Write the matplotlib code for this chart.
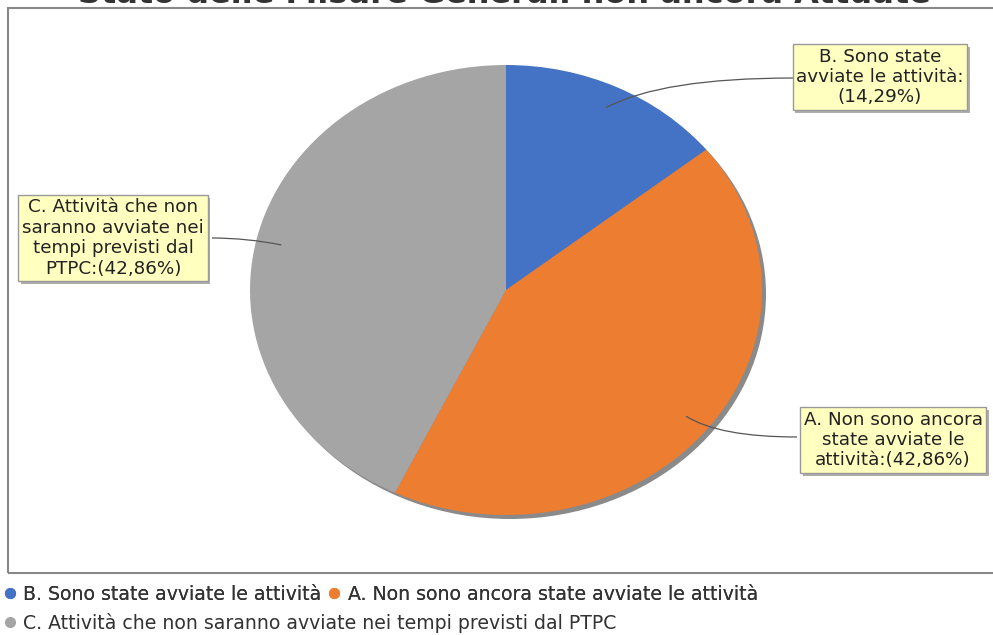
import numpy as np
import matplotlib
matplotlib.use("Agg")
import matplotlib.pyplot as plt
from matplotlib.path import Path
from matplotlib.patches import PathPatch, Rectangle
from matplotlib.lines import Line2D
import matplotlib.patheffects as pe

plt.rcParams['font.family'] = ['DejaVu Sans']

title = "Stato delle Misure Generali non ancora Attuate"
categories = ["B. Sono state avviate le attività",
              "A. Non sono ancora state avviate le attività",
              "C. Attività che non saranno avviate nei tempi previsti dal PTPC"]
values = [14.29, 42.86, 42.86]
label_texts = ["B. Sono state\navviate le attività:\n(14,29%)",
               "A. Non sono ancora\nstate avviate le\nattività:(42,86%)",
               "C. Attività che non\nsaranno avviate nei\ntempi previsti dal\nPTPC:(42,86%)"]
colors = ["#4472C4", "#ED7D31", "#A5A5A5"]

W, H = 993, 635
fig = plt.figure(figsize=(W / 100, H / 100), dpi=100)
ax = fig.add_axes([0, 0, 1, 1])

# pixel geometry of the pie ellipse
cx, cy, rx, ry = 506, 290, 256, 225

def px(x, y):
    return ((x - cx) / rx, (cy - y) / ry)

# shadow
ax.pie([1], colors=["#8a8a8a"], radius=1, center=(4 / rx, -4 / ry),
       wedgeprops=dict(linewidth=0))
wedges, _ = ax.pie(values, colors=colors, startangle=90, counterclock=False,
                   radius=1, center=(0, 0),
                   wedgeprops=dict(linewidth=0))
ax.set_aspect('auto')
x0, y0 = px(0, H)
x1, y1 = px(W, 0)
ax.set_xlim(x0, x1)
ax.set_ylim(y0, y1)
ax.axis('off')

# label boxes (pixel centres) and link points on box edges
box_centers = [(880, 77), (893, 440), (113, 238)]
link_points = [(793, 78), (797, 437), (212, 238)]

total = sum(values)
start = 90.0
for i, v in enumerate(values):
    sweep = v / total * 360
    mid = np.radians(start - sweep / 2)
    start -= sweep
    ax_pt = (0.9 * np.cos(mid), 0.9 * np.sin(mid))
    lk = px(*link_points[i])
    ctrl = (ax_pt[0] + (lk[0] - ax_pt[0]) * 0.3, lk[1]) if i != 2 else ((ax_pt[0] + lk[0]) / 2, lk[1])
    path = Path([ax_pt, ctrl, lk], [Path.MOVETO, Path.CURVE3, Path.CURVE3])
    ax.add_patch(PathPatch(path, fc='none', ec='#555555', lw=0.9, zorder=5))
    t = ax.text(*px(*box_centers[i]), label_texts[i], ha='center', va='center',
                fontsize=13.2, color='#222222', linespacing=1.17, zorder=6,
                bbox=dict(boxstyle='square,pad=0.2', fc='#FFFFC0', ec='#999999', lw=1))
    t.get_bbox_patch().set_path_effects([pe.SimplePatchShadow(offset=(2, -2), shadow_rgbFace='#999999', alpha=0.8), pe.Normal()])

# frame
fig.add_artist(Rectangle((8 / W, (H - 573) / H), 1.0, (573 - 8) / H, transform=fig.transFigure,
                         fill=False, ec='#888888', lw=1.5, clip_on=False))

# title (cut at the top, as in the reference)
fig.text(0.508, 1 - 3 / H, title, ha='center', va='baseline', fontsize=23,
         fontweight='bold', color='#333333')

# legends
h = [Line2D([], [], ls='none', marker='o', ms=7, mfc=c, mec=c) for c in colors]
kw = dict(loc='upper left', frameon=False, fontsize=13.6, handlelength=0.6, handletextpad=0.4,
          columnspacing=0.4, borderaxespad=0, borderpad=0.0, labelcolor='#333333')
leg1 = fig.legend(h[:2], categories[:2], bbox_to_anchor=(4 / W, 1 - 585 / H), ncol=2, **kw)
leg2 = fig.legend(h[2:], categories[2:], bbox_to_anchor=(4 / W, 1 - 613 / H), ncol=1, **kw)
fig.add_artist(leg1)

fig.savefig("out.png", dpi=100)
